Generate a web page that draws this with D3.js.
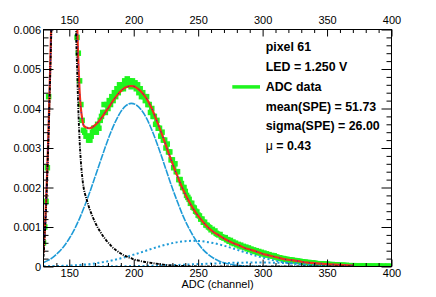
<!DOCTYPE html>
<html><head><meta charset="utf-8">
<script src="https://cdn.jsdelivr.net/npm/d3@7"></script>
<style>
body{margin:0;background:#fff}
svg{display:block}
text{font-family:"Liberation Sans",Arial,Helvetica,sans-serif}
</style>
</head><body>
<svg id="c" width="436" height="297"></svg>
<script>
// ---------- tick definitions ----------
const xMajorTicks = [150, 200, 250, 300, 350, 400];
const xMinorTicks = [140, 160, 170, 180, 190, 210, 220, 230, 240, 260, 270, 280, 290, 310, 320, 330, 340, 360, 370, 380, 390];
const yMajorTicks = [0, 0.001, 0.002, 0.003, 0.004, 0.005, 0.006];
const yMajorLabels = ["0", "0.001", "0.002", "0.003", "0.004", "0.005", "0.006"];
const yMinorTicks = [0.0002, 0.0004, 0.0006, 0.0008, 0.0012, 0.0014, 0.0016, 0.0018, 0.0022, 0.0024, 0.0026, 0.0028,
  0.0032, 0.0034, 0.0036, 0.0038, 0.0042, 0.0044, 0.0046, 0.0048, 0.0052, 0.0054, 0.0056, 0.0058];

// ---------- ADC data (one bin per channel, first bin = 130) ----------
const dataFirstChannel = 130;
const adcData = [
  0.0006, 0.001, 0.00165, 0.0025, 0.0043, 0.0063, 0.008, 0.01, 0.012, 0.014,
  0.016, 0.018, 0.019, 0.02, 0.021, 0.021, 0.02, 0.019, 0.018, 0.017,
  0.016, 0.014, 0.012, 0.011, 0.0092, 0.0068, 0.0058, 0.0054, 0.0047, 0.0041,
  0.0037, 0.00345, 0.0034, 0.0033, 0.0033, 0.0032, 0.0032, 0.0033, 0.0034, 0.0035,
  0.0035, 0.0034, 0.0036, 0.0035, 0.0037, 0.0038, 0.0039, 0.0041, 0.0039, 0.0041,
  0.004, 0.0042, 0.0041, 0.0043, 0.0042, 0.0044, 0.0043, 0.0045, 0.0044, 0.0046,
  0.0045, 0.0046, 0.0045, 0.0047, 0.0046, 0.00475, 0.0046, 0.0047, 0.00455, 0.0047,
  0.0046, 0.00465, 0.0045, 0.0046, 0.0044, 0.0045, 0.0043, 0.0044, 0.0043, 0.0042,
  0.0043, 0.0041, 0.0041, 0.0039, 0.004, 0.0038, 0.0038, 0.0036, 0.0037, 0.0035,
  0.0035, 0.0033, 0.0034, 0.0032, 0.0032, 0.003, 0.0031, 0.0029, 0.0029, 0.0027,
  0.0027, 0.0025, 0.0026, 0.0024, 0.0024, 0.0022, 0.0022, 0.0021, 0.002, 0.002,
  0.0019, 0.0018, 0.00175, 0.0017, 0.0016, 0.0016, 0.0015, 0.00148, 0.0014, 0.00138,
  0.0013, 0.00128, 0.0012, 0.0012, 0.00112, 0.00112, 0.00105, 0.00104, 0.001, 0.00098,
  0.00093, 0.00094, 0.00088, 0.0009, 0.00084, 0.00082, 0.0008, 0.00081, 0.00075, 0.00074,
  0.00072, 0.00073, 0.00068, 0.00068, 0.00064, 0.00066, 0.0006, 0.00062, 0.00058, 0.00059,
  0.00055, 0.00056, 0.00052, 0.00054, 0.0005, 0.00051, 0.00048, 0.00049, 0.00045, 0.00047,
  0.00043, 0.00044, 0.0004, 0.00042, 0.00038, 0.0004, 0.00036, 0.00038, 0.00034, 0.00036,
  0.00032, 0.00034, 0.0003, 0.00032, 0.00029, 0.0003, 0.00027, 0.00028, 0.00026, 0.00027,
  0.00024, 0.00024, 0.00022, 0.00022, 0.00021, 0.0002, 0.0002, 0.00019, 0.00018, 0.00018,
  0.00017, 0.00017, 0.00016, 0.00016, 0.00015, 0.00015, 0.00014, 0.00014, 0.00013, 0.00013,
  0.00012, 0.00012, 0.00011, 0.00011, 0.0001, 0.0001, 0.0001, 0.00009, 0.00009, 0.00009,
  0.00008, 0.00008, 0.00007, 0.00007, 0.00007, 0.00006, 0.00007, 0.00006, 0.00006, 0.00005,
  0.00006, 0.00005, 0.00005, 0.00004, 0.00005, 0.00004, 0.00004, 0.00004, 0.00003, 0.00004,
  0.00003, 0.00003, 0.00003, 0.00003, 0.00002, 0.00003, 0.00002, 0.00002, 0.00002, 0.00002,
  0.00002, 0.00002, 0.00001, 0.00002, 0.00001, 0.00001, 0.00001, 0.00002, 0.00001, 0.00001,
  0.00001, 0.00001, 0.00001, 0.00001, 0, 0.00001, 0.00001, 0, 0.00001, 0,
  0.00001, 0.00001, 0, 0, 0.00001, 0, 0, 0.00001, 0, 0,
  0
];

// ---------- fit: total ----------
const totalX = [130,131,132,133,134,135,136,137,140,145,150,153,154,155,156,157,158,159,160,161,162,163,164,165,166,167,168,170,172,174,176,178,180,182,184,186,188,190,192,194,196,198,200,202,204,206,208,210,214,218,222,226,230,234,238,242,246,250,254,258,262,266,270,274,278,282,286,290,295,300,305,310,315,320,325,330,335,340,345,350,360,370];
const totalY = [0.00035,0.00091,0.00162,0.00254,0.00356,0.00478,0.0061,0.0077,0.0133,0.0205,0.0167,0.0119,0.0098,0.0075,0.0062,0.0052,0.00443,0.004,0.00375,0.00358,0.00354,0.00352,0.00351,0.0035,0.0035,0.00351,0.00353,0.00358,0.00364,0.00372,0.00381,0.00391,0.004,0.0041,0.0042,0.00429,0.00437,0.00444,0.0045,0.00454,0.00456,0.00457,0.00456,0.00453,0.00448,0.00442,0.00434,0.00425,0.004,0.00368,0.00334,0.00297,0.00261,0.00228,0.00197,0.0017,0.00147,0.00128,0.00112,0.00098,0.00087,0.00079,0.00071,0.00064,0.00058,0.00053,0.00047,0.00043,0.00038,0.00032,0.00028,0.00024,0.0002,0.00017,0.00015,0.00012,0.0001,0.000086,0.000072,0.00006,0.000041,0.000025];

// ---------- fit: pedestal ----------
const pedX = [130,131,132,133,134,135,136,137,140,145,150,153,154,155,156,157,158,159,160,161,162,163,164,165,166,167,168,170,172,174,176,178,180,182,184,186,188,190,192,194,196,198,200,204,208,212,216,220,225,230,240,250,260,280,300,330,370];
const pedY = [0.00025,0.0008,0.0015,0.0024,0.0034,0.0046,0.0059,0.0075,0.013,0.02,0.016,0.011,0.0088,0.0063,0.0051,0.004,0.0032,0.00265,0.00228,0.00202,0.00186,0.00175,0.00164,0.00153,0.00143,0.00135,0.00127,0.00112,0.00099,0.00088,0.00078,0.00069,0.00061,0.00054,0.00047,0.00042,0.00037,0.00033,0.00029,0.00026,0.00023,0.00021,0.00018,0.00015,0.00012,0.0001,0.00008,0.00006,0.00004,0.000025,0.00001,0.000003,0,0,0,0,0];

// ---------- fit: 1 p.e. ----------
const pe1X = [130,134,138,142,146,150,154,158,162,166,170,174,178,182,186,190,194,198,202,206,210,214,218,222,226,230,234,238,242,246,250,254,258,262,266,270,274,278,282,286,290,294,298,302,310,320,340,370];
const pe1Y = [0.0001,0.00016,0.00025,0.00037,0.00052,0.00071,0.00094,0.00122,0.00154,0.00189,0.00227,0.00265,0.00303,0.00338,0.00368,0.00392,0.00407,0.00413,0.00409,0.00396,0.00375,0.00346,0.00312,0.00275,0.00236,0.00198,0.00163,0.0013,0.00102,0.00078,0.00058,0.00042,0.0003,0.00021,0.00014,0.000094,0.000061,0.000039,0.000024,0.000014,0.000008,0.000005,0.000003,0.0000015,0.0000004,0,0,0];

// ---------- fit: 2 p.e. ----------
const pe2X = [130,135,140,145,150,155,160,165,170,175,180,185,190,195,200,205,210,215,220,225,230,235,240,245,250,255,260,265,270,275,280,285,290,295,300,305,310,315,320,325,330,335,340,345,350,355,360,365,370];
const pe2Y = [0.000005,0.000007,0.000011,0.000016,0.000022,0.000032,0.000044,0.000059,0.000079,0.000103,0.000132,0.000167,0.000207,0.000251,0.0003,0.000352,0.000405,0.000458,0.000508,0.000553,0.000592,0.000622,0.000641,0.00065,0.000646,0.000631,0.000605,0.00057,0.000527,0.000478,0.000426,0.000373,0.000321,0.00027,0.000224,0.000182,0.000146,0.000114,0.000088,0.000067,0.000049,0.000036,0.000026,0.000018,0.000013,0.0000085,0.0000056,0.0000037,0.0000024];

// ---------- fit: 3 p.e. ----------
const pe3X = [130,140,150,160,170,180,190,200,210,220,230,240,250,260,270,280,290,300,310,320,330,340,350,360,370];
const pe3Y = [0.0000001,0.0000003,0.0000006,0.0000011,0.0000021,0.0000038,0.0000066,0.0000108,0.0000168,0.0000249,0.0000352,0.0000474,0.0000607,0.0000739,0.0000857,0.0000946,0.0000994,0.0000994,0.0000946,0.0000857,0.0000739,0.0000607,0.0000474,0.0000352,0.0000249];

// ---------- legend ----------
const legendLines = ["pixel 61", "LED = 1.250 V", "ADC data", "mean(SPE) = 51.73", "sigma(SPE) = 26.00", "\u03bc = 0.43"];

// ---------- drawing ----------
const svg = d3.select("#c");
svg.append("rect").attr("width", 436).attr("height", 297).attr("fill", "#fff");
const L = 43.5, R = 391.5, T = 29.5, B = 266.5;
const x = d3.scaleLinear().domain([130, 400]).range([L, R]);
const y = d3.scaleLinear().domain([0, 0.006]).range([B, T]);

svg.append("clipPath").attr("id", "clip").append("rect")
  .attr("x", L).attr("y", T).attr("width", R - L).attr("height", B - T);
const plot = svg.append("g").attr("clip-path", "url(#clip)");

const GREEN = "#1ef51e", CYAN = "#1f9bd7";
// data markers
const pts = adcData.map((v, i) => [dataFirstChannel + i, v]);
const ms = 5.5;
plot.append("g").selectAll("rect").data(pts).join("rect")
  .attr("x", d => x(d[0]) - ms / 2).attr("y", d => y(d[1]) - ms / 2)
  .attr("width", ms).attr("height", ms).attr("fill", GREEN);

function line(xs, ys) {
  return d3.line().x((d, i) => x(xs[i])).y((d, i) => y(ys[i])).curve(d3.curveMonotoneX)(ys);
}
plot.append("path").attr("d", line(pe3X, pe3Y)).attr("fill", "none").attr("stroke", CYAN)
  .attr("stroke-width", 2).attr("stroke-dasharray", "2 2.5");
plot.append("path").attr("d", line(pe2X, pe2Y)).attr("fill", "none").attr("stroke", CYAN)
  .attr("stroke-width", 2).attr("stroke-dasharray", "2 2.5");
plot.append("path").attr("d", line(pe1X, pe1Y)).attr("fill", "none").attr("stroke", CYAN)
  .attr("stroke-width", 1.6).attr("stroke-dasharray", "7 1");
plot.append("path").attr("d", line(totalX, totalY)).attr("fill", "none").attr("stroke", "#f0301c")
  .attr("stroke-width", 2.2);
plot.append("path").attr("d", line(pedX, pedY)).attr("fill", "none").attr("stroke", "#000")
  .attr("stroke-width", 1.9).attr("stroke-dasharray", "3 1.2 1 1.2");
plot.append("path").attr("d", line(totalX, totalY)).attr("fill", "none").attr("stroke", "#2020d0")
  .attr("stroke-width", 1).attr("stroke-dasharray", "1 5");

// axes
const fs = "11px";
function styleAxis(g) {
  g.select(".domain").remove();
  g.selectAll("line").attr("stroke", "#000").attr("stroke-width", 1);
  g.selectAll("text").attr("fill", "#000").style("font-size", fs).style("font-family", '"Liberation Sans",Arial,sans-serif');
}
svg.append("g").attr("transform", `translate(0,${B})`)
  .call(d3.axisBottom(x).tickValues(xMinorTicks).tickSize(-3.5).tickFormat("")).call(styleAxis);
svg.append("g").attr("transform", `translate(0,${B})`)
  .call(d3.axisBottom(x).tickValues(xMajorTicks).tickSize(-7).tickPadding(3).tickFormat(d3.format("d"))).call(styleAxis);
svg.append("g").attr("transform", `translate(0,${T})`)
  .call(d3.axisTop(x).tickValues(xMinorTicks).tickSize(-3.5).tickFormat("")).call(styleAxis);
svg.append("g").attr("transform", `translate(0,${T})`)
  .call(d3.axisTop(x).tickValues(xMajorTicks).tickSize(-7).tickPadding(5.5).tickFormat(d3.format("d"))).call(styleAxis);
svg.append("g").attr("transform", `translate(${L},0)`)
  .call(d3.axisLeft(y).tickValues(yMinorTicks).tickSize(-5).tickFormat("")).call(styleAxis);
svg.append("g").attr("transform", `translate(${L},0)`)
  .call(d3.axisLeft(y).tickValues(yMajorTicks).tickSize(-10).tickPadding(2.5)
    .tickFormat((d, i) => yMajorLabels[i])).call(styleAxis);
svg.append("g").attr("transform", `translate(${R},0)`)
  .call(d3.axisRight(y).tickValues(yMinorTicks).tickSize(-5).tickFormat("")).call(styleAxis);
svg.append("g").attr("transform", `translate(${R},0)`)
  .call(d3.axisRight(y).tickValues(yMajorTicks).tickSize(-10).tickFormat("")).call(styleAxis);

svg.append("rect").attr("x", L).attr("y", T).attr("width", R - L).attr("height", B - T)
  .attr("fill", "none").attr("stroke", "#000").attr("stroke-width", 1);

svg.append("text").attr("x", (L + R) / 2).attr("y", 288).attr("text-anchor", "middle")
  .style("font-size", fs).text("ADC (channel)");

// legend
const lg = svg.append("g");
const lx = 265.7, ly0 = 51, ldy = 19.85;
legendLines.forEach((t, i) => {
  const tx = lg.append("text").attr("x", lx).attr("y", ly0 + i * ldy)
    .style("font-size", "12.4px").style("font-weight", "bold");
  if (t.startsWith("\u03bc")) {
    tx.append("tspan").style("font-weight", "normal").text("\u03bc");
    tx.append("tspan").text(t.slice(1));
  } else tx.text(t);
});
lg.append("line").attr("x1", 232.3).attr("x2", 260).attr("y1", ly0 + 2 * ldy - 3.8).attr("y2", ly0 + 2 * ldy - 3.8)
  .attr("stroke", GREEN).attr("stroke-width", 3.5);
</script>
</body></html>
